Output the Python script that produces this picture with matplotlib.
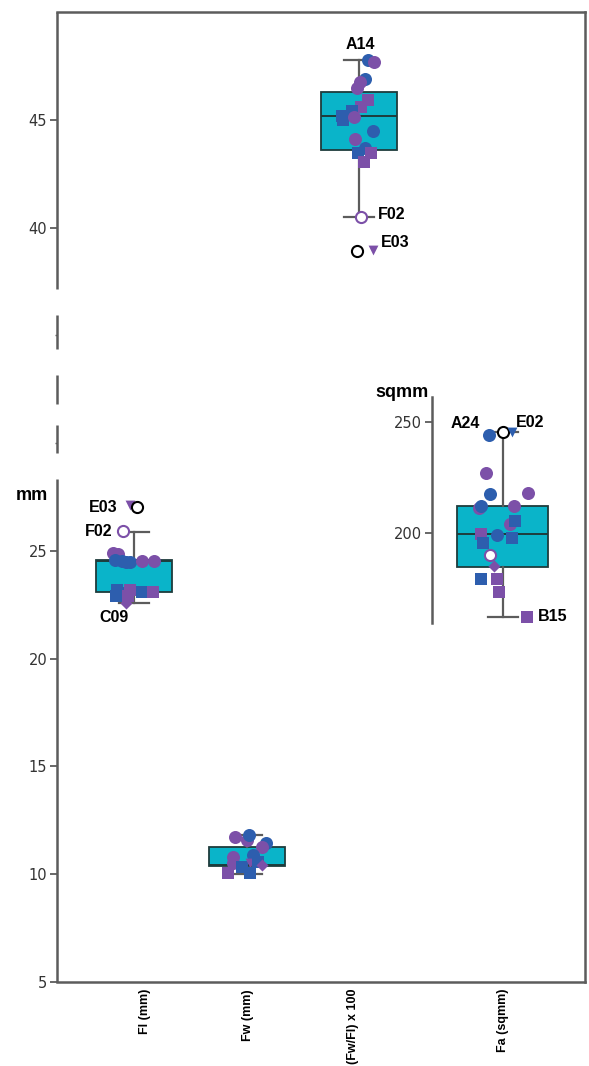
import matplotlib.pyplot as plt

plt.rcParams["font.family"] = ["Liberation Sans", "DejaVu Sans"]

BLUE = "#2d5eae"
PURPLE = "#7c50a8"
TEAL = "#0ab4c9"
EDGE = "#1e3c3c"
GREY = "#5c5c5c"
COLORS = {"b": BLUE, "p": PURPLE, "k": "black"}

# x-axis labels (one per variable)
var_labels = ["Fl (mm)", "Fw (mm)", "(Fw/Fl) x 100", "Fa (sqmm)"]

# box summaries for the three variables on the mm / ratio axis
box_q1 = [23.07, 10.38, 43.61]
box_med = [24.52, 10.45, 45.19]
box_q3 = [24.58, 11.25, 46.27]
box_lo = [22.60, 10.01, 40.50]
box_hi = [25.88, 11.80, 47.78]

# Fa summary (sqmm axis)
fa_q1, fa_med, fa_q3, fa_lo, fa_hi = 184.7, 199.3, 212.0, 162.2, 245.2

# individual specimens: value, colour code, marker ("O" = hollow circle)
fl_vals = [24.89, 24.86, 24.58, 24.54, 24.50, 24.50, 24.54, 24.54,
           23.19, 22.91, 23.05, 23.19, 22.91, 23.11, 23.11, 22.57,
           27.13, 27.03, 25.90]
fl_cols = ["p", "p", "b", "b", "b", "b", "p", "p",
           "b", "b", "b", "p", "p", "b", "p", "p",
           "p", "k", "p"]
fl_mark = ["o", "o", "o", "o", "o", "o", "o", "o",
           "s", "s", "s", "s", "s", "s", "s", "D",
           "v", "O", "O"]
fl_dx = [-21, -16, -19, -12, -8, -4, 8, 20,
         -17, -18, -11, -4, -6, 8, 19, -8,
         -4, 3, -11]

fw_vals = [11.71, 11.59, 11.82, 11.46, 11.25, 10.89, 10.79, 10.51,
           10.35, 10.51, 10.55, 10.43, 10.04, 10.04]
fw_cols = ["p", "p", "b", "b", "p", "b", "p", "p",
           "b", "p", "b", "p", "p", "b"]
fw_mark = ["o", "o", "o", "o", "o", "o", "o", "o",
           "s", "v", "s", "D", "s", "s"]
fw_dx = [-12, 0, 2, 19, 15, 6, -14, -14, -5, 3, 11, 15, -19, 3]

ratio_vals = [47.78, 47.68, 46.89, 46.75, 46.47, 45.90, 45.59, 45.42,
              45.19, 45.00, 45.13, 44.50, 44.10, 43.69, 43.45, 43.45,
              43.06, 40.48, 38.92, 38.97]
ratio_cols = ["b", "p", "b", "p", "p", "p", "p", "b",
              "b", "b", "p", "b", "p", "b", "b", "p",
              "p", "p", "k", "p"]
ratio_mark = ["o", "o", "o", "o", "o", "s", "s", "s",
              "s", "s", "o", "o", "o", "o", "s", "s",
              "s", "O", "O", "v"]
ratio_dx = [9, 15, 6, 1, -2, 9, 2, -7, -17, -16, -5, 14, -4, 6, -1, 12,
            5, 2, -2, 14]

fa_vals = [244.0, 227.0, 217.4, 218.0, 211.0, 212.0, 212.0, 203.9, 205.4,
           199.4, 199.0, 197.5, 195.2, 185.1, 179.1, 179.1, 173.2,
           245.2, 245.5, 190.0, 162.2]
fa_cols = ["b", "p", "b", "p", "p", "b", "p", "p", "b",
           "p", "b", "b", "b", "p", "b", "p", "p",
           "k", "b", "p", "p"]
fa_mark = ["o", "o", "o", "o", "o", "o", "o", "o", "s",
           "s", "o", "s", "s", "D", "s", "s", "s",
           "O", "v", "O", "s"]
fa_dx = [-14, -17, -13, 25, -24, -22, 11, 7, 12, -22, -6, 9, -20, -9, -22,
         -6, -4, 0, 9, -13, 24]

# horizontal positions (pixel-like units along the x axis)
box_pos = [133.5, 247, 359]
fa_pos = 502.5
label_pos = [145, 248, 353, 503]

fig = plt.figure(figsize=(5.89, 10.66), dpi=100)
W, H = 589, 1066
ax = fig.add_axes([57 / W, (H - 982) / H, 528 / W, 970 / H])
ax.set_xlim(57, 585)
ax.set_ylim(5, 50)


def draw_boxes(axis, stats, positions, width):
    axis.bxp(stats, positions=positions, widths=width, patch_artist=True,
             showfliers=False, manage_ticks=False, capwidths=30,
             boxprops=dict(facecolor=TEAL, edgecolor=EDGE, linewidth=1.3),
             medianprops=dict(color=EDGE, linewidth=1.4),
             whiskerprops=dict(color=GREY, linewidth=1.6),
             capprops=dict(color=GREY, linewidth=1.6))


def draw_points(axis, center, dx, vals, cols, marks):
    sizes = {"o": 88, "s": 72, "D": 38, "v": 50, "O": 64}
    for i, (d, v, c, m) in enumerate(zip(dx, vals, cols, marks)):
        col = COLORS[c]
        if m == "O":
            axis.scatter(center + d, v, s=sizes[m], marker="o", facecolor="white",
                         edgecolor=col, linewidth=1.5, zorder=5 + i * 0.01,
                         clip_on=False)
        else:
            axis.scatter(center + d, v, s=sizes[m], marker=m, color=col,
                         linewidth=0, zorder=5 + i * 0.01, clip_on=False)


stats = [dict(q1=a, med=b, q3=c, whislo=d, whishi=e, fliers=[])
         for a, b, c, d, e in zip(box_q1, box_med, box_q3, box_lo, box_hi)]
draw_boxes(ax, stats, box_pos, 76)
draw_points(ax, box_pos[0], fl_dx, fl_vals, fl_cols, fl_mark)
draw_points(ax, box_pos[1], fw_dx, fw_vals, fw_cols, fw_mark)
draw_points(ax, box_pos[2], ratio_dx, ratio_vals, ratio_cols, ratio_mark)

# frame: broken left axis drawn as segments
ax.spines["left"].set_visible(False)
for s in ["top", "right", "bottom"]:
    ax.spines[s].set_color(GREY)
    ax.spines[s].set_linewidth(1.8)
ytr = ax.get_yaxis_transform()
for y0, y1 in [(37.16, 50), (34.37, 35.95), (31.82, 33.17), (29.55, 30.85),
               (5, 28.34)]:
    ax.plot([0, 0], [y0, y1], color=GREY, lw=1.8, transform=ytr,
            clip_on=False, solid_capstyle="butt")

ax.set_yticks([5, 10, 15, 20, 25, 40, 45])
ax.set_yticks([30, 35], minor=True)
ax.tick_params(axis="y", which="major", length=5, width=1.3, color=GREY,
               labelsize=10.5, labelcolor="#333333", pad=2)
ax.tick_params(axis="y", which="minor", length=1.5, width=1, color=GREY)
for t in ax.get_yticklabels():
    t.set_family("DejaVu Sans")
ax.set_xticks(label_pos, var_labels, rotation=90, va="top", fontsize=9,
              fontweight="bold")
ax.tick_params(axis="x", length=0, pad=5)

# specimen labels
lab = dict(fontsize=11.5, fontweight="bold", textcoords="offset points")
ax.annotate("A14", xy=(box_pos[2], box_hi[2]), xytext=(1, 11), ha="center",
            va="center", **lab)
ax.annotate("F02", xy=(box_pos[2] + 2, 40.48), xytext=(12, 2), ha="left",
            va="center", **lab)
ax.annotate("E03", xy=(box_pos[2] + 14, 38.97), xytext=(6, 5), ha="left",
            va="center", **lab)
ax.annotate("E03", xy=(box_pos[0] - 4, 27.13), xytext=(-8.5, -1.5), ha="right",
            va="center", **lab)
ax.annotate("F02", xy=(box_pos[0] - 11, 25.90), xytext=(-7, 0), ha="right",
            va="center", **lab)
ax.annotate("C09", xy=(box_pos[0] - 8, 22.57), xytext=(-8, -10), ha="center",
            va="center", **lab)

fig.text(31.5 / W, 1 - 500 / H, "mm", fontsize=13, fontweight="bold",
         ha="center", va="baseline")

# Fa on its own sqmm axis
ax2 = fig.add_axes([432 / W, (H - 622.7) / H, (585 - 432) / W, 226 / H])
ax2.patch.set_alpha(0)
ax2.set_xlim(432, 585)
ax2.set_ylim(159.5, 261.3)
for s in ["top", "right", "bottom"]:
    ax2.spines[s].set_visible(False)
ax2.spines["left"].set_color(GREY)
ax2.spines["left"].set_linewidth(1.8)
ax2.set_xticks([])
ax2.set_yticks([200, 250])
ax2.tick_params(axis="y", length=5, width=1.3, color=GREY, labelsize=10.5,
                labelcolor="#333333", pad=2)
for t in ax2.get_yticklabels():
    t.set_family("DejaVu Sans")

fa_stats = [dict(q1=fa_q1, med=fa_med, q3=fa_q3, whislo=fa_lo, whishi=fa_hi,
                 fliers=[])]
draw_boxes(ax2, fa_stats, [fa_pos], 91)
draw_points(ax2, fa_pos, fa_dx, fa_vals, fa_cols, fa_mark)

ax2.annotate("A24", xy=(fa_pos - 14, 244.0), xytext=(-6, 8.5), ha="right",
             va="center", **lab)
ax2.annotate("E02", xy=(fa_pos + 9, 245.5), xytext=(3, 6.5), ha="left",
             va="center", **lab)
ax2.annotate("B15", xy=(fa_pos + 24, 162.2), xytext=(8, 0), ha="left",
             va="center", **lab)

fig.text(401.5 / W, 1 - 397 / H, "sqmm", fontsize=13, fontweight="bold",
         ha="center", va="baseline")

fig.savefig("out.png", dpi=100)
